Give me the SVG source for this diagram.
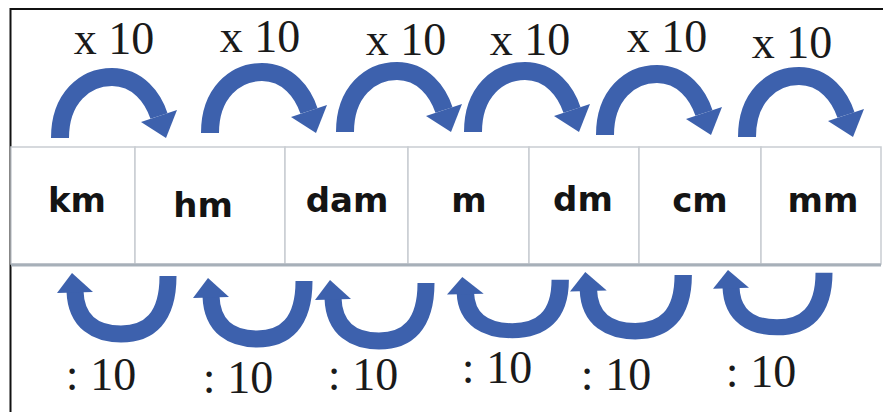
<svg xmlns="http://www.w3.org/2000/svg" xmlns:xlink="http://www.w3.org/1999/xlink" width="883" height="412" viewBox="0 0 883 412">
<style>
.unit{font-family:"DejaVu Sans","Liberation Sans",sans-serif;font-weight:bold;font-size:34px;fill:#141414;text-anchor:middle}
.op{font-family:"Liberation Serif","Times New Roman",serif;font-size:46px;fill:#1a1a1a;text-anchor:middle}
.cell{fill:#ffffff;stroke:#c9cdd2;stroke-width:1.5}
.band{fill:none;stroke:#3d61ad;stroke-linecap:butt}
.head{fill:#3d61ad}
</style>
<defs>
<g id="arrowTop">
<path class="band" stroke-width="18" d="M 10 70 C 10 30 35 9 62 9 C 88 9 103 30 109 48"/>
<polygon class="head" points="127,42 91,54 116,70"/>
</g>
<g id="arrowBottom">
<path class="band" stroke-width="17" d="M 18 18 C 19 50 40 61 64 61 C 92 61 111 45 111 3"/>
<polygon class="head" points="15,0 0,20 36,19"/>
</g>
</defs>
<rect x="0" y="0" width="883" height="412" fill="#ffffff"/>
<g id="frame" fill="none" stroke="#111111" stroke-width="2">
<path d="M 10.5 412 L 10.5 9 L 883 9"/>
</g>
<g id="nodes">
<g id="node-km"><rect class="cell" x="11" y="147" width="124" height="117"/><text class="unit" x="77" y="212">km</text></g>
<g id="node-hm"><rect class="cell" x="135" y="147" width="150" height="117"/><text class="unit" x="203" y="217">hm</text></g>
<g id="node-dam"><rect class="cell" x="285" y="147" width="123" height="117"/><text class="unit" x="347" y="212">dam</text></g>
<g id="node-m"><rect class="cell" x="408" y="147" width="121" height="117"/><text class="unit" x="469" y="212">m</text></g>
<g id="node-dm"><rect class="cell" x="529" y="147" width="110" height="117"/><text class="unit" x="583" y="211">dm</text></g>
<g id="node-cm"><rect class="cell" x="639" y="147" width="122" height="117"/><text class="unit" x="700" y="212">cm</text></g>
<g id="node-mm"><rect class="cell" x="761" y="147" width="120" height="117"/><text class="unit" x="823" y="212">mm</text></g>
<line x1="11" y1="265" x2="881" y2="265" stroke="#a7b0b9" stroke-width="3"/>
</g>
<g id="connectors">
<use xlink:href="#arrowTop" transform="translate(50,68)"/>
<use xlink:href="#arrowTop" transform="translate(200,63)"/>
<use xlink:href="#arrowTop" transform="translate(335,62)"/>
<use xlink:href="#arrowTop" transform="translate(463,62)"/>
<use xlink:href="#arrowTop" transform="translate(595,65)"/>
<use xlink:href="#arrowTop" transform="translate(737,67)"/>
<use xlink:href="#arrowBottom" transform="translate(57,273)"/>
<use xlink:href="#arrowBottom" transform="translate(193,278)"/>
<use xlink:href="#arrowBottom" transform="translate(315,280)"/>
<use xlink:href="#arrowBottom" transform="translate(447,277) scale(1.02,0.88)"/>
<use xlink:href="#arrowBottom" transform="translate(570,272) scale(1.02,0.97)"/>
<use xlink:href="#arrowBottom" transform="translate(713,270) scale(1,0.94)"/>
</g>
<g id="labels">
<text class="op" x="114" y="54">x 10</text>
<text class="op" x="260" y="52">x 10</text>
<text class="op" x="406" y="55">x 10</text>
<text class="op" x="530" y="55">x 10</text>
<text class="op" x="667" y="52">x 10</text>
<text class="op" x="792" y="58">x 10</text>
<text class="op" x="101" y="390">: 10</text>
<text class="op" x="238" y="393">: 10</text>
<text class="op" x="363" y="390">: 10</text>
<text class="op" x="497" y="383">: 10</text>
<text class="op" x="616" y="390">: 10</text>
<text class="op" x="761" y="387">: 10</text>
</g>
</svg>
